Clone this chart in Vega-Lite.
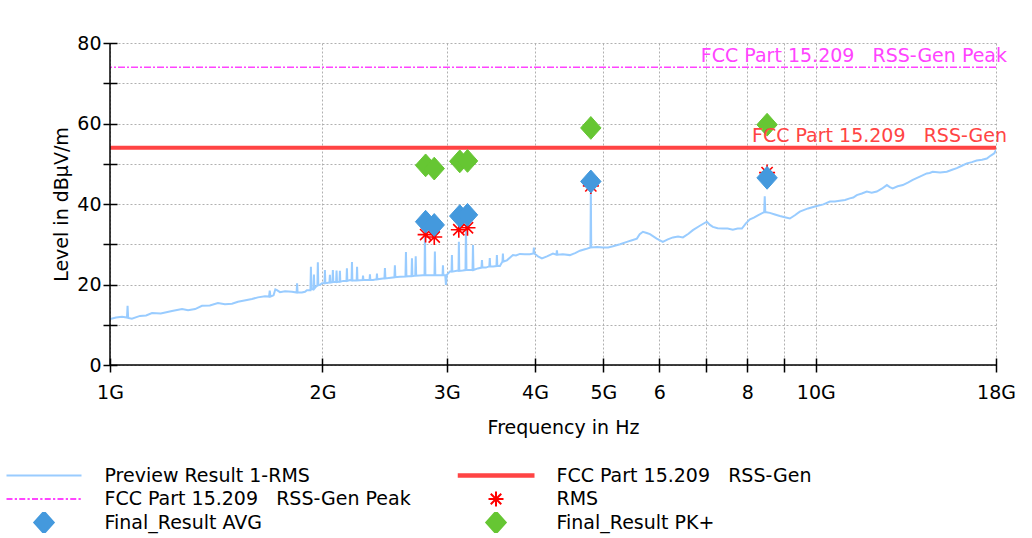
{
  "$schema": "https://vega.github.io/schema/vega-lite/v6.json",
  "width": 886,
  "height": 322,
  "autosize": {"type": "none"},
  "padding": {"left": 110, "top": 43, "right": 36, "bottom": 173},
  "background": "white",
  "config": {
    "view": {"stroke": null},
    "font": "DejaVu Sans",
    "axis": {
      "labelFont": "DejaVu Sans",
      "titleFont": "DejaVu Sans",
      "labelFontSize": 19,
      "titleFontSize": 19,
      "titleFontWeight": "normal",
      "labelColor": "#000000",
      "titleColor": "#000000",
      "tickColor": "#000000",
      "gridColor": "#b0b0b0",
      "gridDash": [2, 2],
      "gridWidth": 1
    }
  },
  "datasets": {
    "preview": [
      {"f": 1.000, "level": 11.4}, {"f": 1.020, "level": 11.8}, {"f": 1.040, "level": 12.0}, {"f": 1.057, "level": 11.8},
      {"f": 1.059, "level": 14.7}, {"f": 1.061, "level": 11.7}, {"f": 1.074, "level": 11.5}, {"f": 1.090, "level": 11.9},
      {"f": 1.103, "level": 12.2}, {"f": 1.125, "level": 12.3}, {"f": 1.147, "level": 12.9}, {"f": 1.180, "level": 12.8},
      {"f": 1.224, "level": 13.4}, {"f": 1.265, "level": 13.9}, {"f": 1.290, "level": 13.6}, {"f": 1.320, "level": 13.9},
      {"f": 1.350, "level": 14.7}, {"f": 1.385, "level": 14.8}, {"f": 1.422, "level": 15.4}, {"f": 1.455, "level": 15.1},
      {"f": 1.489, "level": 15.2}, {"f": 1.518, "level": 15.7}, {"f": 1.550, "level": 16.0}, {"f": 1.589, "level": 16.4},
      {"f": 1.620, "level": 16.8}, {"f": 1.658, "level": 17.1}, {"f": 1.680, "level": 17.0}, {"f": 1.684, "level": 18.5},
      {"f": 1.688, "level": 17.0}, {"f": 1.705, "level": 17.3}, {"f": 1.715, "level": 18.8}, {"f": 1.724, "level": 18.6},
      {"f": 1.741, "level": 18.1}, {"f": 1.770, "level": 18.3}, {"f": 1.811, "level": 18.2}, {"f": 1.838, "level": 18.0},
      {"f": 1.841, "level": 20.3}, {"f": 1.844, "level": 18.0}, {"f": 1.870, "level": 18.0}, {"f": 1.889, "level": 18.2},
      {"f": 1.901, "level": 18.6}, {"f": 1.923, "level": 18.6}, {"f": 1.926, "level": 24.4}, {"f": 1.929, "level": 18.8},
      {"f": 1.942, "level": 18.8}, {"f": 1.945, "level": 22.5}, {"f": 1.948, "level": 19.0}, {"f": 1.958, "level": 19.5},
      {"f": 1.967, "level": 19.7}, {"f": 1.970, "level": 25.5}, {"f": 1.973, "level": 19.8}, {"f": 1.984, "level": 19.9},
      {"f": 1.997, "level": 20.3}, {"f": 2.013, "level": 20.3}, {"f": 2.016, "level": 23.6}, {"f": 2.019, "level": 20.3},
      {"f": 2.029, "level": 20.4}, {"f": 2.046, "level": 20.5}, {"f": 2.049, "level": 22.4}, {"f": 2.052, "level": 20.5},
      {"f": 2.066, "level": 20.6}, {"f": 2.069, "level": 23.6}, {"f": 2.072, "level": 20.6}, {"f": 2.091, "level": 20.6},
      {"f": 2.094, "level": 23.5}, {"f": 2.097, "level": 20.6}, {"f": 2.114, "level": 20.7}, {"f": 2.117, "level": 23.4},
      {"f": 2.120, "level": 20.7}, {"f": 2.140, "level": 20.9}, {"f": 2.163, "level": 20.9}, {"f": 2.166, "level": 24.0},
      {"f": 2.169, "level": 20.9}, {"f": 2.188, "level": 21.1}, {"f": 2.199, "level": 21.0}, {"f": 2.202, "level": 25.6},
      {"f": 2.205, "level": 21.0}, {"f": 2.236, "level": 21.0}, {"f": 2.239, "level": 24.4}, {"f": 2.242, "level": 21.0},
      {"f": 2.280, "level": 21.1}, {"f": 2.283, "level": 22.2}, {"f": 2.286, "level": 21.1}, {"f": 2.332, "level": 21.1},
      {"f": 2.335, "level": 22.5}, {"f": 2.338, "level": 21.1}, {"f": 2.359, "level": 21.1}, {"f": 2.386, "level": 21.3},
      {"f": 2.389, "level": 22.7}, {"f": 2.392, "level": 21.3}, {"f": 2.436, "level": 21.5}, {"f": 2.448, "level": 21.5},
      {"f": 2.452, "level": 24.1}, {"f": 2.456, "level": 21.5}, {"f": 2.500, "level": 21.7}, {"f": 2.529, "level": 21.8},
      {"f": 2.533, "level": 24.8}, {"f": 2.537, "level": 21.8}, {"f": 2.575, "level": 21.9}, {"f": 2.622, "level": 22.0},
      {"f": 2.626, "level": 28.1}, {"f": 2.630, "level": 22.0}, {"f": 2.674, "level": 22.1}, {"f": 2.678, "level": 26.5},
      {"f": 2.682, "level": 22.1}, {"f": 2.707, "level": 22.2}, {"f": 2.711, "level": 27.0}, {"f": 2.715, "level": 22.2},
      {"f": 2.775, "level": 22.3}, {"f": 2.790, "level": 22.3}, {"f": 2.794, "level": 32.7}, {"f": 2.798, "level": 22.3},
      {"f": 2.860, "level": 22.3}, {"f": 2.882, "level": 22.3}, {"f": 2.886, "level": 28.2}, {"f": 2.890, "level": 22.3},
      {"f": 2.940, "level": 22.3}, {"f": 2.959, "level": 22.3}, {"f": 2.963, "level": 24.8}, {"f": 2.967, "level": 22.3},
      {"f": 2.985, "level": 22.3}, {"f": 2.992, "level": 19.9}, {"f": 3.000, "level": 22.4}, {"f": 3.031, "level": 23.2},
      {"f": 3.047, "level": 23.2}, {"f": 3.051, "level": 27.3}, {"f": 3.055, "level": 23.2}, {"f": 3.100, "level": 23.4},
      {"f": 3.117, "level": 23.4}, {"f": 3.121, "level": 30.6}, {"f": 3.125, "level": 23.4}, {"f": 3.160, "level": 23.5},
      {"f": 3.189, "level": 23.6}, {"f": 3.194, "level": 34.8}, {"f": 3.199, "level": 23.6}, {"f": 3.230, "level": 23.6},
      {"f": 3.263, "level": 23.6}, {"f": 3.268, "level": 29.8}, {"f": 3.273, "level": 23.6}, {"f": 3.320, "level": 24.0},
      {"f": 3.360, "level": 24.2}, {"f": 3.365, "level": 26.1}, {"f": 3.370, "level": 24.2}, {"f": 3.408, "level": 24.2},
      {"f": 3.447, "level": 24.5}, {"f": 3.452, "level": 26.6}, {"f": 3.457, "level": 24.5}, {"f": 3.490, "level": 24.5},
      {"f": 3.528, "level": 24.6}, {"f": 3.533, "level": 27.3}, {"f": 3.538, "level": 24.6}, {"f": 3.568, "level": 24.6},
      {"f": 3.598, "level": 25.7}, {"f": 3.603, "level": 27.7}, {"f": 3.608, "level": 25.7}, {"f": 3.650, "level": 26.0},
      {"f": 3.723, "level": 27.3}, {"f": 3.760, "level": 27.2}, {"f": 3.808, "level": 27.6}, {"f": 3.870, "level": 27.5},
      {"f": 3.934, "level": 27.5}, {"f": 3.980, "level": 27.7}, {"f": 3.986, "level": 29.2}, {"f": 3.992, "level": 27.7},
      {"f": 4.040, "level": 27.0}, {"f": 4.092, "level": 26.5}, {"f": 4.160, "level": 27.0}, {"f": 4.242, "level": 27.7},
      {"f": 4.290, "level": 27.4}, {"f": 4.297, "level": 28.5}, {"f": 4.304, "level": 27.4}, {"f": 4.380, "level": 27.5},
      {"f": 4.482, "level": 27.3}, {"f": 4.560, "level": 27.8}, {"f": 4.632, "level": 28.4}, {"f": 4.720, "level": 28.8},
      {"f": 4.794, "level": 29.2}, {"f": 4.800, "level": 43.8}, {"f": 4.806, "level": 29.2}, {"f": 4.900, "level": 29.3},
      {"f": 4.993, "level": 29.2}, {"f": 5.080, "level": 29.2}, {"f": 5.159, "level": 29.5}, {"f": 5.280, "level": 30.0},
      {"f": 5.399, "level": 30.6}, {"f": 5.490, "level": 31.0}, {"f": 5.578, "level": 31.4}, {"f": 5.630, "level": 32.5},
      {"f": 5.689, "level": 33.1}, {"f": 5.760, "level": 32.8}, {"f": 5.821, "level": 32.5}, {"f": 5.950, "level": 31.4},
      {"f": 6.070, "level": 30.6}, {"f": 6.170, "level": 31.2}, {"f": 6.274, "level": 31.7}, {"f": 6.380, "level": 31.9},
      {"f": 6.482, "level": 31.7}, {"f": 6.600, "level": 32.6}, {"f": 6.696, "level": 33.5}, {"f": 6.850, "level": 34.6},
      {"f": 7.009, "level": 35.6}, {"f": 7.080, "level": 34.8}, {"f": 7.147, "level": 34.3}, {"f": 7.260, "level": 34.0},
      {"f": 7.384, "level": 33.9}, {"f": 7.500, "level": 33.9}, {"f": 7.629, "level": 33.6}, {"f": 7.750, "level": 33.9},
      {"f": 7.857, "level": 33.9}, {"f": 7.960, "level": 35.2}, {"f": 8.066, "level": 36.2}, {"f": 8.170, "level": 36.6},
      {"f": 8.278, "level": 37.2}, {"f": 8.450, "level": 38.0}, {"f": 8.465, "level": 41.9}, {"f": 8.480, "level": 38.0},
      {"f": 8.607, "level": 37.8}, {"f": 8.750, "level": 37.4}, {"f": 8.892, "level": 37.0}, {"f": 9.040, "level": 36.7},
      {"f": 9.188, "level": 36.4}, {"f": 9.340, "level": 37.2}, {"f": 9.490, "level": 38.1}, {"f": 9.750, "level": 38.9},
      {"f": 10.03, "level": 39.5}, {"f": 10.25, "level": 39.9}, {"f": 10.47, "level": 40.6}, {"f": 10.64, "level": 40.6},
      {"f": 10.81, "level": 40.8}, {"f": 11.00, "level": 41.0}, {"f": 11.17, "level": 41.4}, {"f": 11.30, "level": 41.6},
      {"f": 11.43, "level": 42.2}, {"f": 11.62, "level": 42.6}, {"f": 11.81, "level": 43.1}, {"f": 12.00, "level": 42.8},
      {"f": 12.20, "level": 43.1}, {"f": 12.40, "level": 43.8}, {"f": 12.61, "level": 44.7}, {"f": 12.73, "level": 44.2},
      {"f": 12.85, "level": 43.9}, {"f": 13.06, "level": 44.4}, {"f": 13.28, "level": 44.7}, {"f": 13.50, "level": 45.3},
      {"f": 13.72, "level": 46.0}, {"f": 14.04, "level": 46.8}, {"f": 14.36, "level": 47.6}, {"f": 14.50, "level": 47.7},
      {"f": 14.64, "level": 48.0}, {"f": 15.00, "level": 47.8}, {"f": 15.33, "level": 48.0}, {"f": 15.60, "level": 48.5},
      {"f": 15.84, "level": 48.9}, {"f": 16.10, "level": 49.5}, {"f": 16.37, "level": 50.1}, {"f": 16.64, "level": 50.4},
      {"f": 16.90, "level": 50.8}, {"f": 17.20, "level": 51.0}, {"f": 17.47, "level": 51.3}, {"f": 17.62, "level": 51.8},
      {"f": 17.76, "level": 52.2}, {"f": 17.90, "level": 52.6}, {"f": 18.00, "level": 53.4}
    ],
    "rms": [
      {"f": 2.80, "level": 32.4, "series": "RMS"},
      {"f": 2.88, "level": 31.8, "series": "RMS"},
      {"f": 3.12, "level": 33.6, "series": "RMS"},
      {"f": 3.21, "level": 34.1, "series": "RMS"},
      {"f": 4.80, "level": 44.5, "series": "RMS"},
      {"f": 8.53, "level": 47.8, "series": "RMS"}
    ],
    "finals": [
      {"f": 2.80, "level": 35.6, "series": "Final_Result AVG"},
      {"f": 2.88, "level": 34.8, "series": "Final_Result AVG"},
      {"f": 3.13, "level": 37.0, "series": "Final_Result AVG"},
      {"f": 3.21, "level": 37.3, "series": "Final_Result AVG"},
      {"f": 4.80, "level": 45.6, "series": "Final_Result AVG"},
      {"f": 8.53, "level": 46.5, "series": "Final_Result AVG"},
      {"f": 2.80, "level": 49.6, "series": "Final_Result PK+"},
      {"f": 2.88, "level": 48.8, "series": "Final_Result PK+"},
      {"f": 3.13, "level": 50.6, "series": "Final_Result PK+"},
      {"f": 3.21, "level": 50.7, "series": "Final_Result PK+"},
      {"f": 4.80, "level": 58.9, "series": "Final_Result PK+"},
      {"f": 8.53, "level": 59.7, "series": "Final_Result PK+"}
    ],
    "limits": [
      {"series": "FCC Part 15.209\u00a0\u00a0\u00a0RSS-Gen", "level": 54, "kind": "avg"},
      {"series": "FCC Part 15.209\u00a0\u00a0\u00a0RSS-Gen Peak", "level": 74, "kind": "peak"}
    ]
  },
  "layer": [
    {
      "data": {"name": "limits"},
      "transform": [{"filter": "datum.kind === 'peak'"}],
      "mark": {"type": "rule", "strokeWidth": 1.5, "strokeDash": [7, 2, 2, 2]},
      "encoding": {
        "y": {"field": "level", "type": "quantitative", "scale": {"domain": [0, 80], "nice": false},
          "axis": {
            "title": "Level in dBµV/m",
            "values": [0, 10, 20, 30, 40, 50, 60, 70, 80],
            "labelExpr": "datum.value % 20 === 0 ? datum.label : ''",
            "domain": false,
            "offset": -7,
            "tickSize": 14,
            "tickWidth": 1.5,
            "labelPadding": 2,
            "titlePadding": 5,
            "grid": true
          }
        },
        "stroke": {
          "field": "series",
          "type": "nominal",
          "scale": {
            "domain": ["Preview Result 1-RMS", "FCC Part 15.209\u00a0\u00a0\u00a0RSS-Gen Peak", "Final_Result AVG", "FCC Part 15.209\u00a0\u00a0\u00a0RSS-Gen", "RMS", "Final_Result PK+"],
            "range": ["#99ccff", "#ff44ff", "#4499dd", "#ff4444", "#ff0000", "#66c633"]
          },
          "legend": {
            "title": null,
            "orient": "none",
            "legendX": -104.5,
            "legendY": 422,
            "columns": 2,
            "columnPadding": 46,
            "rowPadding": 2.5,
            "clipHeight": 21,
            "symbolSize": 5625,
            "symbolStrokeWidth": 2,
            "labelOffset": 22,
            "labelFont": "DejaVu Sans",
            "labelFontSize": 19,
            "labelColor": "#000000",
            "labelLimit": 0
          }
        }
      }
    },
    {
      "data": {"name": "limits"},
      "transform": [{"filter": "datum.kind === 'avg'"}],
      "mark": {"type": "rule", "strokeWidth": 4},
      "encoding": {
        "y": {"field": "level", "type": "quantitative"},
        "stroke": {
          "field": "series",
          "type": "nominal",
          "scale": {
            "domain": ["Preview Result 1-RMS", "FCC Part 15.209\u00a0\u00a0\u00a0RSS-Gen Peak", "Final_Result AVG", "FCC Part 15.209\u00a0\u00a0\u00a0RSS-Gen", "RMS", "Final_Result PK+"],
            "range": ["#99ccff", "#ff44ff", "#4499dd", "#ff4444", "#ff0000", "#66c633"]
          },
          "legend": {"title": null}
        }
      }
    },
    {
      "data": {"name": "preview"},
      "mark": {"type": "line", "strokeWidth": 2, "clip": true},
      "encoding": {
        "x": {"field": "f", "type": "quantitative",
          "scale": {"type": "log", "domain": [1, 18], "nice": false},
          "axis": {
            "title": "Frequency in Hz",
            "values": [1, 2, 3, 4, 5, 6, 7, 8, 9, 10, 18],
            "labelExpr": "datum.value === 1 ? '1G' : datum.value === 2 ? '2G' : datum.value === 3 ? '3G' : datum.value === 4 ? '4G' : datum.value === 5 ? '5G' : datum.value === 6 ? '6' : datum.value === 8 ? '8' : datum.value === 10 ? '10G' : datum.value === 18 ? '18G' : ''",
            "labelOverlap": false,
            "labelFlush": false,
            "domain": false,
            "offset": -7,
            "tickSize": 14,
            "tickWidth": 1.5,
            "labelPadding": 11,
            "titlePadding": 16,
            "titleX": 453,
            "grid": true
          }
        },
        "y": {"field": "level", "type": "quantitative"},
        "stroke": {
          "datum": "Preview Result 1-RMS",
          "scale": {
            "domain": ["Preview Result 1-RMS", "FCC Part 15.209\u00a0\u00a0\u00a0RSS-Gen Peak", "Final_Result AVG", "FCC Part 15.209\u00a0\u00a0\u00a0RSS-Gen", "RMS", "Final_Result PK+"],
            "range": ["#99ccff", "#ff44ff", "#4499dd", "#ff4444", "#ff0000", "#66c633"]
          },
          "legend": {"title": null}
        }
      }
    },
    {
      "data": {"values": [{}]},
      "mark": {"type": "rule", "color": "#000000", "strokeWidth": 1.5},
      "encoding": {"y": {"datum": 0}}
    },
    {
      "data": {"values": [{}]},
      "mark": {"type": "rule", "color": "#000000", "strokeWidth": 1.5},
      "encoding": {"x": {"datum": 1}}
    },
    {
      "data": {"name": "rms"},
      "mark": {"type": "point", "size": 6400, "strokeWidth": 1.6, "opacity": 1},
      "encoding": {
        "x": {"field": "f", "type": "quantitative"},
        "y": {"field": "level", "type": "quantitative"},
        "stroke": {
          "field": "series", "type": "nominal",
          "scale": {
            "domain": ["Preview Result 1-RMS", "FCC Part 15.209\u00a0\u00a0\u00a0RSS-Gen Peak", "Final_Result AVG", "FCC Part 15.209\u00a0\u00a0\u00a0RSS-Gen", "RMS", "Final_Result PK+"],
            "range": ["#99ccff", "#ff44ff", "#4499dd", "#ff4444", "#ff0000", "#66c633"]
          },
          "legend": {"title": null}
        },
        "fill": {
          "field": "series", "type": "nominal",
          "scale": {
            "domain": ["Preview Result 1-RMS", "FCC Part 15.209\u00a0\u00a0\u00a0RSS-Gen Peak", "Final_Result AVG", "FCC Part 15.209\u00a0\u00a0\u00a0RSS-Gen", "RMS", "Final_Result PK+"],
            "range": ["#99ccff", "#ff44ff", "#4499dd", "#ff4444", "#ff0000", "#66c633"]
          },
          "legend": {"title": null}
        },
        "shape": {
          "field": "series", "type": "nominal",
          "scale": {
            "domain": ["Preview Result 1-RMS", "FCC Part 15.209\u00a0\u00a0\u00a0RSS-Gen Peak", "Final_Result AVG", "FCC Part 15.209\u00a0\u00a0\u00a0RSS-Gen", "RMS", "Final_Result PK+"],
            "range": [
              "M-1,0L1,0",
              "M-1,0L-0.84,0M-0.78,0L-0.72,0M-0.66,0L-0.5,0M-0.44,0L-0.38,0M-0.32,0L-0.16,0M-0.1,0L-0.04,0M0.02,0L0.18,0M0.24,0L0.3,0M0.36,0L0.52,0M0.58,0L0.64,0M0.7,0L0.86,0M0.92,0L0.98,0",
              "M0,-0.29L0.26,0L0,0.29L-0.26,0Z",
              "M-1,-0.035L1,-0.035L1,0.035L-1,0.035Z",
              "M-0.2,0L0.2,0M0,-0.2L0,0.2M-0.14,-0.14L0.14,0.14M-0.14,0.14L0.14,-0.14",
              "M0,-0.29L0.26,0L0,0.29L-0.26,0Z"
            ]
          },
          "legend": {"title": null}
        }
      }
    },
    {
      "data": {"name": "finals"},
      "mark": {"type": "point", "size": 6170, "strokeWidth": 1, "opacity": 1},
      "encoding": {
        "x": {"field": "f", "type": "quantitative"},
        "y": {"field": "level", "type": "quantitative"},
        "stroke": {
          "field": "series", "type": "nominal",
          "scale": {
            "domain": ["Preview Result 1-RMS", "FCC Part 15.209\u00a0\u00a0\u00a0RSS-Gen Peak", "Final_Result AVG", "FCC Part 15.209\u00a0\u00a0\u00a0RSS-Gen", "RMS", "Final_Result PK+"],
            "range": ["#99ccff", "#ff44ff", "#4499dd", "#ff4444", "#ff0000", "#66c633"]
          },
          "legend": {"title": null}
        },
        "fill": {
          "field": "series", "type": "nominal",
          "scale": {
            "domain": ["Preview Result 1-RMS", "FCC Part 15.209\u00a0\u00a0\u00a0RSS-Gen Peak", "Final_Result AVG", "FCC Part 15.209\u00a0\u00a0\u00a0RSS-Gen", "RMS", "Final_Result PK+"],
            "range": ["#99ccff", "#ff44ff", "#4499dd", "#ff4444", "#ff0000", "#66c633"]
          },
          "legend": {"title": null}
        },
        "shape": {
          "field": "series", "type": "nominal",
          "scale": {
            "domain": ["Preview Result 1-RMS", "FCC Part 15.209\u00a0\u00a0\u00a0RSS-Gen Peak", "Final_Result AVG", "FCC Part 15.209\u00a0\u00a0\u00a0RSS-Gen", "RMS", "Final_Result PK+"],
            "range": [
              "M-1,0L1,0",
              "M-1,0L-0.84,0M-0.78,0L-0.72,0M-0.66,0L-0.5,0M-0.44,0L-0.38,0M-0.32,0L-0.16,0M-0.1,0L-0.04,0M0.02,0L0.18,0M0.24,0L0.3,0M0.36,0L0.52,0M0.58,0L0.64,0M0.7,0L0.86,0M0.92,0L0.98,0",
              "M0,-0.29L0.26,0L0,0.29L-0.26,0Z",
              "M-1,-0.035L1,-0.035L1,0.035L-1,0.035Z",
              "M-0.2,0L0.2,0M0,-0.2L0,0.2M-0.14,-0.14L0.14,0.14M-0.14,0.14L0.14,-0.14",
              "M0,-0.29L0.26,0L0,0.29L-0.26,0Z"
            ]
          },
          "legend": {"title": null}
        }
      }
    },
    {
      "data": {"name": "limits"},
      "transform": [{"filter": "datum.kind === 'peak'"}],
      "mark": {"type": "text", "align": "right", "baseline": "bottom", "dx": 11, "dy": -1, "fontSize": 19, "font": "DejaVu Sans", "color": "#ff44ff"},
      "encoding": {
        "x": {"datum": 18},
        "y": {"field": "level", "type": "quantitative"},
        "text": {"field": "series"}
      }
    },
    {
      "data": {"name": "limits"},
      "transform": [{"filter": "datum.kind === 'avg'"}],
      "mark": {"type": "text", "align": "right", "baseline": "bottom", "dx": 11, "dy": -2, "fontSize": 19, "font": "DejaVu Sans", "color": "#ff4444"},
      "encoding": {
        "x": {"datum": 18},
        "y": {"field": "level", "type": "quantitative"},
        "text": {"field": "series"}
      }
    }
  ]
}
